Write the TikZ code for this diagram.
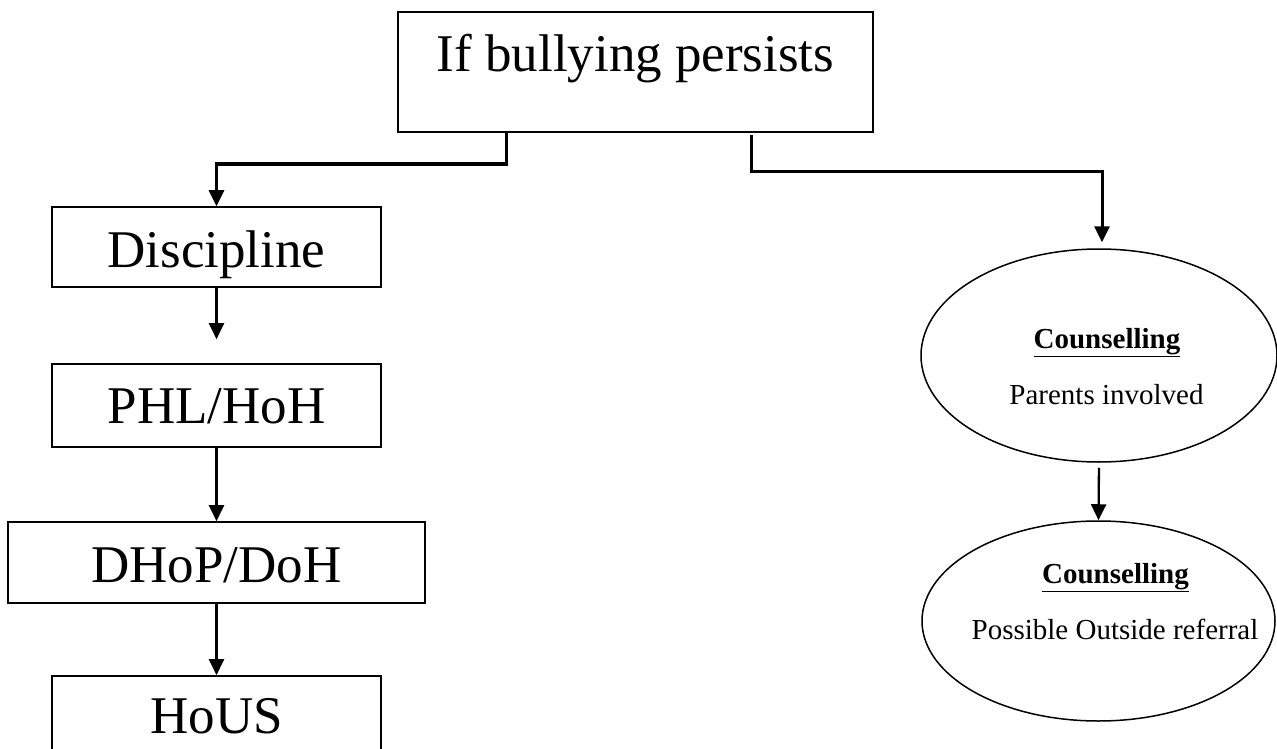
\documentclass[tikz,border=0pt]{standalone}
\usepackage{fontspec}
\setmainfont{Liberation Serif}
\usetikzlibrary{arrows.meta,shapes.geometric}
\begin{document}
\begin{tikzpicture}[x=1pt,y=-1pt,
  box/.style={draw,line width=1.6pt,inner sep=0pt,anchor=base,font=\fontsize{53}{60}\selectfont},
  ell/.style={draw,ellipse,line width=1.5pt,inner sep=0pt},
  lbl/.style={inner sep=0pt,anchor=base,font=\fontsize{29}{34}\selectfont},
  tip/.style={-{Triangle[width=15pt,length=16pt]}},
  conn/.style={line width=3pt,tip},
  arr/.style={line width=2.3pt,tip}]
\useasboundingbox (0,0) rectangle (1277,749);
\clip (0,0) rectangle (1277,749);
% boxes
\node[box,minimum width=475pt,text height=60pt,text depth=60pt] (top) at (635.5,72) {If bullying persists};
\node[box,minimum width=329pt,text height=60pt,text depth=20pt] (disc) at (216.5,267) {Discipline};
\node[box,minimum width=329pt,text height=59pt,text depth=24pt] (phl) at (216.5,423) {PHL/HoH};
\node[box,minimum width=417pt,text height=60pt,text depth=21pt] (dhop) at (216.5,582) {DHoP/DoH};
\node[box,minimum width=329pt,text height=57pt,text depth=40pt] (hous) at (216.5,733) {HoUS};
% ellipses
\node[ell,minimum width=356pt,minimum height=213pt] (c1) at (1099,355.5) {};
\node[ell,minimum width=353pt,minimum height=200pt] (c2) at (1098.5,621) {};
\node[lbl] (c1t) at (1107,348) {\bfseries\underline{Counselling}};
\node[lbl] (c1b) at (1106.5,404) {Parents involved};
\node[lbl] (c2t) at (1115.5,583) {\bfseries\underline{Counselling}};
\node[lbl] (c2b) at (1115,639) {Possible Outside referral};
% connectors
\coordinate (lj) at (506,164);
\coordinate (rs) at (751,135);
\coordinate (rj) at (1102,171);
\draw[conn] (top.south -| lj) -- (lj) -| (disc.north);
\draw[conn,shorten >=6pt] (rs) -- (rs |- rj) -- (rj) -- (rj |- c1.north);
\draw[arr,shorten >=24pt] (disc.south) -- (phl.north);
\draw[arr] (phl.south) -- (dhop.north);
\draw[arr] (dhop.south) -- (hous.north);
\draw[arr,shorten <=5pt] (c1.south) -- (c2.north);
\end{tikzpicture}
\end{document}
